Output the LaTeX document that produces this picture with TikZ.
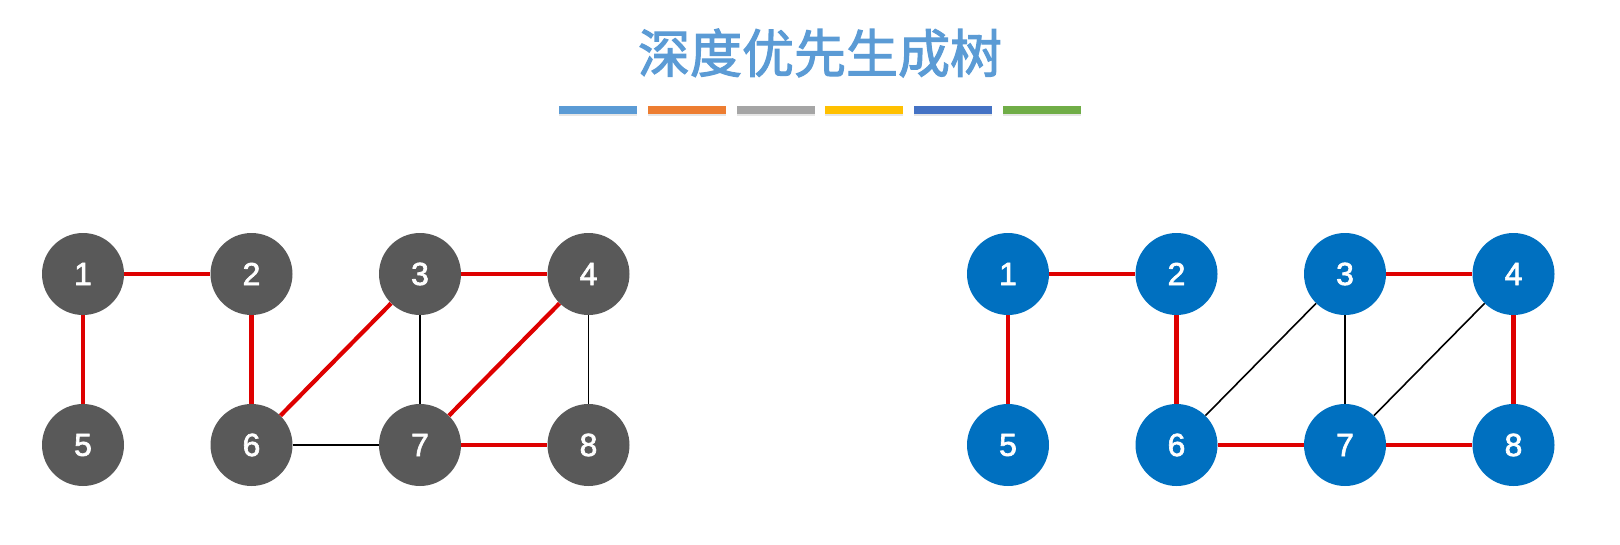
\documentclass[tikz,border=0pt]{standalone}
\usepackage{fontspec}
\setmainfont{Liberation Sans}
\newfontfamily\numfont{Liberation Sans}[FakeBold=2]
\newfontfamily\cjk{Noto Sans CJK SC}[FakeBold=2.2]
\usetikzlibrary{shadows}

\definecolor{titleblue}{RGB}{91,155,213}
\definecolor{bargray}{RGB}{165,165,165}
\definecolor{barorange}{RGB}{237,125,49}
\definecolor{baryellow}{RGB}{255,192,0}
\definecolor{barblue}{RGB}{68,114,196}
\definecolor{bargreen}{RGB}{112,173,71}
\definecolor{nodegray}{RGB}{89,89,89}
\definecolor{nodeblue}{RGB}{0,112,192}
\definecolor{treered}{RGB}{222,0,0}

\tikzset{
  vertex/.style={circle, minimum size=82pt, inner sep=0pt, text=white,
    font=\numfont\fontsize{32pt}{32pt}\selectfont},
  grayv/.style={vertex, fill=nodegray},
  bluev/.style={vertex, fill=nodeblue},
  treeedge/.style={draw=treered, line width=4.2pt},
  plainedge/.style={draw=black, line width=1.6pt},
  colorbar/.style={rectangle, minimum width=78pt, minimum height=8pt, inner sep=0pt,
    drop shadow={opacity=0.2, shadow xshift=0pt, shadow yshift=-2pt}}
}

\begin{document}
\begin{tikzpicture}[
  node distance=168.5pt
]
\useasboundingbox (0,0) rectangle (1620pt,-544pt);

\node (title) at (820pt,-53pt) [text=titleblue, font=\cjk\fontsize{52pt}{52pt}\selectfont] {深度优先生成树};

\node (bar1) at (598pt,-110pt) [colorbar, fill=titleblue] {};
\node (bar2) [colorbar, fill=barorange, node distance=88.8pt, right of=bar1] {};
\node (bar3) [colorbar, fill=bargray, node distance=88.8pt, right of=bar2] {};
\node (bar4) [colorbar, fill=baryellow, node distance=88.8pt, right of=bar3] {};
\node (bar5) [colorbar, fill=barblue, node distance=88.8pt, right of=bar4] {};
\node (bar6) [colorbar, fill=bargreen, node distance=88.8pt, right of=bar5] {};

% left graph
\node (a1) at (83pt,-274pt) [grayv] {1};
\node (a2) [grayv, right of=a1] {2};
\node (a3) [grayv, right of=a2] {3};
\node (a4) [grayv, right of=a3] {4};

\node (a5) [grayv, node distance=171pt, below of=a1] {5};
\node (a6) [grayv, node distance=171pt, below of=a2] {6};
\node (a7) [grayv, node distance=171pt, below of=a3] {7};
\node (a8) [grayv, node distance=171pt, below of=a4] {8};

\draw[treeedge] (a1) -- (a2);
\draw[treeedge] (a1) -- (a5);
\draw[treeedge] (a2) -- (a6);
\draw[treeedge] (a3) -- (a4);
\draw[treeedge] (a6) -- (a3);
\draw[treeedge] (a4) -- (a7);
\draw[treeedge] (a7) -- (a8);

\draw[plainedge] (a3) -- (a7);
\draw[plainedge] (a4) -- (a8);
\draw[plainedge] (a6) -- (a7);

% right graph
\node (b1) at (1008pt,-274pt) [bluev] {1};
\node (b2) [bluev, right of=b1] {2};
\node (b3) [bluev, right of=b2] {3};
\node (b4) [bluev, right of=b3] {4};

\node (b5) [bluev, node distance=171pt, below of=b1] {5};
\node (b6) [bluev, node distance=171pt, below of=b2] {6};
\node (b7) [bluev, node distance=171pt, below of=b3] {7};
\node (b8) [bluev, node distance=171pt, below of=b4] {8};

\draw[treeedge] (b1) -- (b2);
\draw[treeedge] (b1) -- (b5);
\draw[treeedge] (b2) -- (b6);
\draw[treeedge] (b3) -- (b4);
\draw[treeedge] (b4) -- (b8);
\draw[treeedge] (b6) -- (b7);
\draw[treeedge] (b7) -- (b8);

\draw[plainedge] (b3) -- (b6);
\draw[plainedge] (b3) -- (b7);
\draw[plainedge] (b4) -- (b7);

\end{tikzpicture}
\end{document}
